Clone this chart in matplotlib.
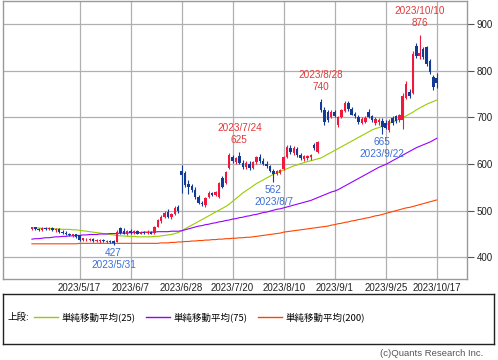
import pandas as pd
import matplotlib.pyplot as plt
import numpy as np

# =====================================================
# Style
# =====================================================

plt.rcParams["font.family"] = ["Liberation Sans", "Noto Sans CJK JP", "DejaVu Sans"]

UP_COLOR = "#f0183c"
DOWN_COLOR = "#123a96"
HI_TEXT = "#e03a3a"
LO_TEXT = "#3a6fd8"
GRID = "#b0b0b0"

# =====================================================
# Data
# =====================================================

holidays = ["2023-05-03", "2023-05-04", "2023-05-05", "2023-07-17",
            "2023-08-11", "2023-09-18", "2023-10-09"]
dates = pd.bdate_range("2023-04-24", "2023-10-17", freq="C", holidays=holidays)

opens = [460, 464, 461, 459, 462, 460, 463, 458, 460, 455,
         453, 450, 446, 449, 447, 437, 439, 437, 439, 435,
         434, 437, 433, 435, 435, 433, 462, 456, 451, 457,
         452, 456, 451, 455, 452, 455, 452, 466, 477, 487,
         498, 487, 492, 508, 585, 580, 558, 553, 545, 530,
         516, 512, 530, 537, 533, 529, 570, 559, 591, 614,
         604, 618, 603, 594, 601, 592, 604, 616, 606, 600,
         595, 586, 578, 581, 590, 614, 634, 624, 633, 620,
         610, 612, 614, 640, 626, 732, 716, 712, 700, 712,
         684, 700, 714, 730, 718, 708, 700, 688, 690, 712,
         702, 688, 690, 692, 688, 672, 698, 702, 694, 694,
         742, 754, 752, 852, 832, 846, 850, 820, 786, 784]
highs = [466, 466, 463, 464, 464, 465, 464, 462, 462, 458,
         456, 453, 451, 450, 448, 442, 442, 441, 441, 440,
         439, 439, 438, 437, 437, 458, 466, 462, 458, 460,
         458, 459, 456, 457, 458, 457, 468, 482, 490, 499,
         503, 495, 510, 512, 598, 584, 565, 558, 550, 534,
         521, 530, 542, 541, 542, 562, 575, 586, 624, 620,
         615, 625, 608, 606, 606, 606, 618, 622, 612, 606,
         598, 589, 588, 590, 618, 640, 640, 638, 636, 624,
         620, 620, 622, 645, 650, 740, 722, 716, 716, 716,
         702, 718, 736, 734, 722, 712, 704, 700, 702, 718,
         706, 700, 698, 698, 694, 696, 702, 706, 708, 752,
         778, 760, 842, 860, 876, 850, 852, 824, 790, 794]
lows = [458, 459, 457, 457, 458, 458, 456, 455, 453, 451,
        448, 445, 443, 441, 436, 435, 434, 434, 433, 432,
        431, 432, 430, 430, 427, 432, 450, 449, 448, 450,
        449, 450, 449, 450, 450, 449, 451, 464, 474, 484,
        484, 482, 490, 496, 538, 550, 536, 540, 526, 514,
        510, 508, 528, 531, 531, 527, 548, 557, 589, 603,
        600, 600, 590, 590, 588, 589, 601, 603, 597, 592,
        582, 562, 576, 578, 588, 612, 622, 620, 616, 608,
        607, 608, 609, 630, 624, 712, 684, 690, 698, 700,
        680, 698, 712, 714, 704, 698, 686, 686, 688, 698,
        690, 684, 684, 665, 676, 668, 684, 688, 690, 676,
        740, 742, 750, 828, 826, 826, 810, 792, 758, 762]
closes = [464, 461, 459, 462, 460, 463, 458, 460, 455, 453,
          450, 447, 449, 443, 438, 441, 440, 440, 435, 438,
          437, 434, 436, 433, 431, 455, 453, 451, 456, 452,
          456, 451, 455, 452, 455, 451, 466, 479, 487, 496,
          486, 493, 506, 500, 576, 555, 551, 544, 529, 517,
          514, 527, 537, 533, 540, 559, 551, 583, 620, 606,
          612, 603, 594, 603, 591, 604, 614, 606, 600, 596,
          586, 578, 586, 588, 614, 636, 625, 635, 620, 612,
          617, 618, 619, 634, 647, 716, 690, 695, 712, 703,
          700, 716, 730, 718, 706, 702, 690, 696, 698, 700,
          694, 696, 694, 680, 678, 692, 688, 692, 704, 745,
          772, 745, 836, 832, 838, 830, 814, 798, 764, 774]

sma25 = [463, 463, 463, 462, 462, 462, 461, 461, 461, 460,
         460, 460, 459, 459, 458, 457, 456, 455, 454, 453,
         452, 451, 450, 449, 448, 447, 446, 446, 445, 445,
         445, 444, 444, 444, 444, 444, 445, 445, 446, 447,
         448, 449, 451, 453, 457, 461, 465, 469, 473, 477,
         481, 485, 489, 493, 497, 501, 505, 509, 514, 520,
         526, 532, 538, 543, 548, 553, 558, 562, 566, 570,
         574, 578, 581, 584, 587, 590, 593, 596, 598, 601,
         603, 605, 607, 609, 611, 613, 617, 621, 625, 629,
         633, 637, 641, 645, 649, 653, 657, 661, 665, 669,
         673, 676, 678, 681, 684, 687, 690, 693, 696, 699,
         703, 707, 711, 716, 720, 724, 728, 731, 734, 737]
sma75 = [439, 440, 440, 441, 442, 442, 443, 444, 444, 445,
         445, 446, 446, 447, 447, 448, 448, 449, 449, 449,
         450, 450, 450, 451, 451, 451, 452, 452, 452, 453,
         453, 453, 453, 454, 454, 454, 454, 455, 455, 455,
         455, 456, 456, 456, 457, 459, 461, 463, 465, 467,
         468, 470, 471, 473, 474, 476, 477, 479, 480, 482,
         483, 485, 486, 488, 489, 491, 492, 494, 496, 497,
         499, 501, 503, 504, 506, 508, 510, 512, 514, 516,
         518, 520, 522, 525, 528, 531, 534, 537, 540, 542,
         545, 549, 553, 557, 561, 565, 569, 573, 577, 581,
         585, 589, 593, 596, 599, 603, 607, 611, 615, 619,
         623, 627, 631, 635, 638, 641, 644, 647, 651, 655]
sma200 = [429, 429, 429, 429, 429, 429, 429, 429, 429, 429,
          429, 429, 429, 429, 430, 430, 430, 430, 430, 430,
          430, 430, 430, 430, 430, 430, 430, 430, 430, 430,
          430, 430, 430, 430, 430, 430, 430, 430, 431, 431,
          431, 432, 432, 433, 433, 434, 434, 435, 435, 436,
          436, 437, 437, 438, 438, 439, 439, 440, 440, 441,
          441, 442, 442, 443, 443, 444, 445, 446, 447, 448,
          449, 450, 451, 452, 454, 455, 456, 457, 458, 459,
          460, 461, 462, 463, 464, 465, 466, 467, 469, 470,
          472, 473, 475, 476, 478, 479, 481, 482, 484, 485,
          487, 489, 490, 492, 494, 496, 498, 500, 502, 504,
          506, 507, 509, 511, 513, 515, 517, 519, 521, 523]

tick_dates = ["2023-05-17", "2023-06-07", "2023-06-28", "2023-07-20",
              "2023-08-10", "2023-09-01", "2023-09-25", "2023-10-17"]
y_ticks = [400, 500, 600, 700, 800, 900]

# marked highs / lows: (date, value)
high_marks = [("2023-07-24", 625), ("2023-08-28", 740), ("2023-10-10", 876)]
low_marks = [("2023-05-31", 427), ("2023-08-07", 562), ("2023-09-22", 665)]

df = pd.DataFrame({"Open": opens, "High": highs, "Low": lows, "Close": closes,
                   "SMA25": sma25, "SMA75": sma75, "SMA200": sma200},
                  index=dates)
x = np.arange(len(df))


def idx(d):
    return df.index.get_loc(pd.Timestamp(d))


def label(d):
    t = pd.Timestamp(d)
    return f"{t.year}/{t.month}/{t.day}"


# =====================================================
# Figure
# =====================================================

fig = plt.figure(figsize=(4.98, 3.6), dpi=100)
ax = fig.add_axes([3 / 498, 1 - 279 / 360, 464 / 498, 278 / 360])

# grid
for v in y_ticks:
    ax.axhline(v, color=GRID, lw=0.9, zorder=0)
for d in tick_dates:
    ax.axvline(idx(d), color=GRID, lw=0.9, zorder=0)

# moving averages
ax.plot(x, df["SMA25"], color="#99cc00", lw=0.8, zorder=2)
ax.plot(x, df["SMA75"], color="#9900ff", lw=0.8, zorder=2)
ax.plot(x, df["SMA200"], color="#ff4400", lw=0.8, zorder=2)

# candles
up = df["Close"] >= df["Open"]
colors = np.where(up, UP_COLOR, DOWN_COLOR)
ax.vlines(x, df["Low"], df["High"], colors=colors, lw=0.8, zorder=3)
body_lo = np.minimum(df["Open"], df["Close"])
body_h = np.maximum(np.abs(df["Close"] - df["Open"]), 1.2)
ax.bar(x, body_h, bottom=body_lo, width=0.72, color=colors, lw=0, zorder=4)

# high / low labels
for d, v in high_marks:
    i = idx(d)
    ax.annotate(f"{v}", (i, df["High"].iloc[i]), xytext=(0, 12),
                textcoords="offset pixels", ha="center", va="center",
                fontsize=7.2, color=HI_TEXT)
    ax.annotate(label(d), (i, df["High"].iloc[i]), xytext=(0, 24),
                textcoords="offset pixels", ha="center", va="center",
                fontsize=7.2, color=HI_TEXT)
for d, v in low_marks:
    i = idx(d)
    ax.annotate(f"{v}", (i, df["Low"].iloc[i]), xytext=(0, -8),
                textcoords="offset pixels", ha="center", va="center",
                fontsize=7.2, color=LO_TEXT)
    ax.annotate(label(d), (i, df["Low"].iloc[i]), xytext=(0, -20),
                textcoords="offset pixels", ha="center", va="center",
                fontsize=7.2, color=LO_TEXT)

ax.set_xlim(-8.5, 127.9)
ax.set_ylim(353.6, 949.3)

ax.set_xticks([idx(d) for d in tick_dates])
ax.set_xticklabels([label(d) for d in tick_dates])
ax.set_yticks(y_ticks)
ax.yaxis.tick_right()
ax.tick_params(axis="x", length=0, pad=3, labelsize=7, colors="#222222")
ax.tick_params(axis="y", length=5, width=0.8, color="#555555", pad=2,
               labelsize=7, labelcolor="#222222")
for s in ax.spines.values():
    s.set_color("#999999")
    s.set_linewidth(1)

# =====================================================
# Legend box
# =====================================================

lg = fig.add_axes([3 / 498, 1 - 344 / 360, 491 / 498, 50 / 360])
lg.set_xlim(0, 491)
lg.set_ylim(50, 0)
lg.set_xticks([])
lg.set_yticks([])
for s in lg.spines.values():
    s.set_color("#222222")
    s.set_linewidth(1)

lg.text(5, 23, "上段:", fontsize=6.8, va="center", ha="left",
        family=["Noto Sans CJK JP", "DejaVu Sans"])
entries = [(31, "#99cc00", "単純移動平均(25)"),
           (143, "#9900ff", "単純移動平均(75)"),
           (255, "#ff4400", "単純移動平均(200)")]
for x0, c, t in entries:
    lg.plot([x0, x0 + 24], [23, 23], color=c, lw=1)
    lg.text(x0 + 27, 23, t, fontsize=6.8, va="center", ha="left",
            family=["Noto Sans CJK JP", "DejaVu Sans"])

fig.text(483 / 498, 1 - 354 / 360, "(c)Quants Research Inc.", fontsize=6.8,
         ha="right", va="center", color="#555555")

fig.savefig("out.png", dpi=100)
